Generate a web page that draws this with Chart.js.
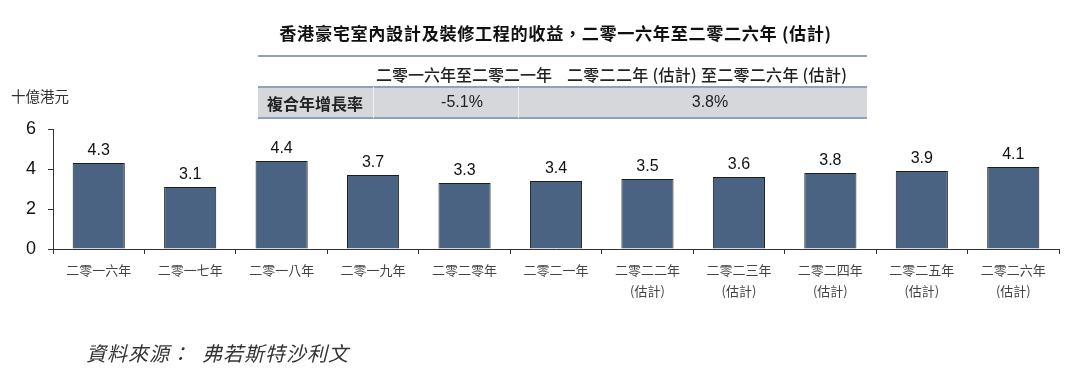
<!DOCTYPE html>
<html>
<head>
<meta charset="utf-8">
<script src="https://cdn.jsdelivr.net/npm/chart.js@4"></script>
<style>
  html, body { margin: 0; padding: 0; background: #fff; }
  body { width: 1080px; height: 376px; position: relative; overflow: hidden;
         font-family: "Noto Sans CJK TC", "Noto Sans", sans-serif; color: #222; }
  #wrap { position: absolute; left: 0; top: 0; width: 1080px; height: 376px; }
  .abs { position: absolute; white-space: nowrap; }
  #title { left: 0; width: 1111px; top: 20px; text-align: center; font-weight: bold; font-size: 17.2px; letter-spacing: 0.6px; color: #111; }
  .hline { position: absolute; left: 258px; width: 609px; height: 2px; background: #8ea2ba; }
  #greyrow { position: absolute; left: 258px; width: 609px; top: 87px; height: 31px; background: #d5d7db; }
  .vsep { position: absolute; top: 87px; width: 1px; height: 31px; background: #f2f2f2; }
  .sub { top: 62px; font-size: 16px; color: #222; font-weight: 500; }
  .cell { top: 91px; font-size: 16px; color: #222; }
  .num { top: 93px; width: 120px; text-align: center; font-family: Arial, "Liberation Sans", sans-serif; font-size: 16px; }
  #unit { left: 11px; top: 85px; font-size: 14.5px; color: #333; }
  #source { left: 86px; top: 338px; font-size: 20px; font-style: italic; color: #333; letter-spacing: 1px; }
</style>
</head>
<body>
<div id="wrap"><canvas id="chart" width="1080" height="376"></canvas></div>

<div id="title" class="abs">香港豪宅室內設計及裝修工程的收益，二零一六年至二零二六年 (估計)</div>
<div class="hline" style="top:55px"></div>
<div class="abs sub" style="left:376px">二零一六年至二零二一年</div>
<div class="abs sub" style="left:567px;letter-spacing:0.3px">二零二二年 (估計) 至二零二六年 (估計)</div>
<div id="greyrow"></div>
<div class="hline" style="top:86px"></div>
<div class="hline" style="top:117px"></div>
<div class="vsep" style="left:373px"></div>
<div class="vsep" style="left:518px"></div>
<div class="abs cell" style="left:267px;font-weight:bold">複合年增長率</div>
<div class="abs cell num" style="left:402px">-5.1%</div>
<div class="abs cell num" style="left:650px">3.8%</div>
<div id="unit" class="abs">十億港元</div>
<div id="source" class="abs">資料來源：&nbsp;&nbsp;弗若斯特沙利文</div>

<script>
// 香港豪宅室內設計及裝修工程的收益 (十億港元)
const years = [
  ['二零一六年'], ['二零一七年'], ['二零一八年'], ['二零一九年'], ['二零二零年'],
  ['二零二一年'],
  ['二零二二年', '(估計)'], ['二零二三年', '(估計)'], ['二零二四年', '(估計)'],
  ['二零二五年', '(估計)'], ['二零二六年', '(估計)']
];
const revenue = [4.3, 3.1, 4.4, 3.7, 3.3, 3.4, 3.5, 3.6, 3.8, 3.9, 4.1];
const yTicks = [0, 2, 4, 6];

// value labels above bars
const barLabels = {
  id: 'barLabels',
  afterDatasetsDraw(chart) {
    const ctx = chart.ctx;
    const meta = chart.getDatasetMeta(0);
    ctx.save();
    ctx.font = '16px Arial, "Liberation Sans", sans-serif';
    ctx.fillStyle = '#111';
    ctx.textAlign = 'center';
    ctx.textBaseline = 'bottom';
    meta.data.forEach((bar, i) => {
      ctx.fillText(revenue[i].toFixed(1), bar.x, bar.y - 4);
    });
    ctx.restore();
  }
};

const canvas = document.getElementById('chart');
new Chart(canvas, {
  type: 'bar',
  data: {
    labels: years,
    datasets: [{
      data: revenue,
      backgroundColor: '#4b6383',
      borderColor: '#1c1c1c',
      borderWidth: 1,
      barPercentage: 0.57,
      categoryPercentage: 1
    }]
  },
  options: {
    responsive: false,
    animation: false,
    layout: { padding: { top: 129, right: 21, bottom: 67, left: 0 } },
    plugins: { legend: { display: false }, tooltip: { enabled: false } },
    scales: {
      x: {
        afterFit(scale) { scale.height = 60; },
        grid: { display: true, drawOnChartArea: false, drawTicks: true, tickLength: 5, color: '#333', offset: true },
        border: { display: true, color: '#333', width: 1 },
        ticks: {
          color: '#444',
          padding: 6,
          maxRotation: 0,
          autoSkip: false,
          font: { family: '"Noto Sans CJK TC", sans-serif', size: 13, lineHeight: 1.6 }
        }
      },
      y: {
        min: 0, max: 6,
        afterFit(scale) { scale.width = 53; },
        afterBuildTicks(scale) { scale.ticks = yTicks.map(v => ({ value: v })); },
        grid: { display: true, drawOnChartArea: false, drawTicks: true, tickLength: 5, color: '#333' },
        border: { display: true, color: '#333', width: 1 },
        ticks: {
          color: '#111',
          padding: 12,
          font: { family: 'Arial, "Liberation Sans", sans-serif', size: 18 }
        }
      }
    }
  },
  plugins: [barLabels]
});
</script>
</body>
</html>
